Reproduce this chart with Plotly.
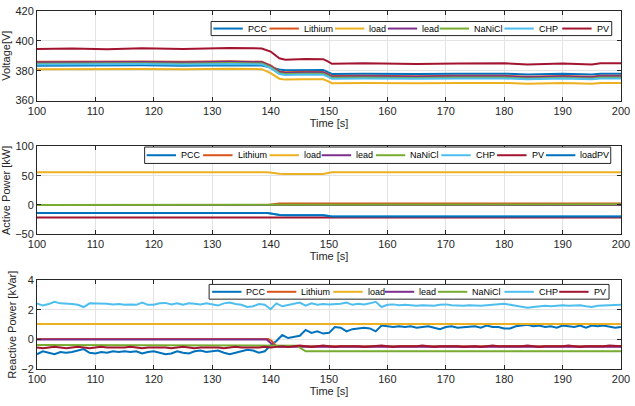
import plotly.graph_objects as go

NAMES = ["PCC", "Lithium", "load", "lead", "NaNiCl", "CHP", "PV"]
COLORS = {"PCC": "#0072BD", "Lithium": "#D95319", "load": "#EDB120", "lead": "#7E2F8E",
          "NaNiCl": "#77AC30", "CHP": "#4DBEEE", "PV": "#A2142F", "loadPV": "#0072BD"}

# ---------------- Voltage [V] ----------------
V_T = [100, 106, 112, 118, 125, 133, 138.5, 140, 141.5, 142.5, 146, 149, 149.8, 150.5,
       156, 165, 172, 180, 184, 190, 195, 196.5, 200]
V_PCC = [383.3, 383.5, 383.2, 383.6, 383.3, 383.7, 383.4, 382.0, 380.8, 380.3, 380.6, 380.5,
         379.0, 377.8, 378.0, 377.7, 378.0, 378.0, 377.4, 377.9, 377.4, 378.0, 378.0]
V_LITHIUM = [385.9, 386.1, 385.8, 386.2, 385.9, 386.3, 386.0, 383.5, 379.5, 378.9, 379.2, 379.1,
             377.8, 376.4, 376.6, 376.3, 376.6, 376.6, 376.0, 376.5, 376.0, 376.6, 376.6]
V_LOAD = [380.9, 381.1, 380.8, 381.2, 380.9, 381.3, 381.0, 378.3, 374.6, 374.0, 374.3, 374.2,
          373.0, 371.6, 371.8, 371.5, 371.8, 371.8, 371.2, 371.7, 371.2, 371.8, 371.8]
V_LEAD = [385.5, 385.7, 385.4, 385.8, 385.5, 385.9, 385.6, 383.1, 379.1, 378.5, 378.8, 378.7,
          377.4, 376.0, 376.2, 375.9, 376.2, 376.2, 375.6, 376.1, 375.6, 376.2, 376.2]
V_NANICL = [384.7, 384.9, 384.6, 385.0, 384.7, 385.1, 384.8, 382.3, 378.3, 377.7, 378.0, 377.9,
            376.6, 375.2, 375.4, 375.1, 375.4, 375.4, 374.8, 375.3, 374.8, 375.4, 375.4]
V_CHP = [384.1, 384.3, 384.0, 384.4, 384.1, 384.5, 384.2, 381.7, 377.7, 377.1, 377.4, 377.3,
         376.0, 374.6, 374.8, 374.5, 374.8, 374.8, 374.2, 374.7, 374.2, 374.8, 374.8]
V_PV = [394.5, 394.8, 394.4, 395.0, 394.6, 395.2, 394.9, 392.8, 388.3, 387.4, 387.8, 387.7,
        386.2, 384.6, 384.9, 384.5, 384.8, 384.9, 384.2, 384.8, 384.2, 384.9, 384.9]

# ---------------- Active power [kW] ----------------
P_T = [100, 139.5, 141.5, 142.5, 149, 150.5, 200]
P_PCC = [0, 0, 0, 0, 0, 0, 0]
P_LITHIUM = [0, 0, 2.5, 2.5, 2.5, 2.5, 2.5]
P_LOAD = [56, 56, 53.5, 53, 53, 56, 56]
P_LEAD = [0, 0, 0, 0, 0, 0, 0]
P_NANICL = [0, 0, 1.2, 1.2, 1.2, 1.2, 1.2]
P_CHP = [-13.5, -13.5, -16.5, -17, -17, -19.5, -19.5]
P_PV = [-21.5, -21.5, -21.5, -21.5, -21.5, -21.5, -21.5]
P_LOADPV = [-13.5, -13.5, -17, -17.5, -17.5, -19.5, -19.5]

# ---------------- Reactive power [kVar] ----------------
Q_T = list(range(100, 201))
Q_PCC = [-1.0, -0.8, -0.9, -1.0, -0.85, -0.9, -0.85, -0.75, -0.65, -0.9,
         -0.95, -0.85, -0.9, -0.8, -0.85, -0.8, -0.85, -0.8, -0.95, -0.85,
         -0.8, -0.9, -1.0, -0.95, -0.8, -0.9, -0.95, -0.8, -0.75, -0.85,
         -0.8, -0.75, -0.9, -1.0, -0.9, -0.8, -0.7, -0.75, -0.9, -0.8,
         -0.4, -0.1, 0.3, 0.1, 0.15, 0.25, 0.65, 0.45, 0.55, 0.4,
         0.45, 0.85, 0.8, 0.55, 0.7, 0.75, 0.8, 0.75, 0.55, 0.95,
         0.9, 0.85, 0.9, 0.85, 0.9, 0.8, 0.85, 0.9, 0.8, 0.7,
         0.85, 0.9, 0.8, 0.85, 0.85, 0.9, 0.8, 0.95, 0.85, 0.85,
         0.75, 0.75, 0.9, 0.95, 1.0, 0.9, 0.95, 0.85, 0.9, 0.8,
         0.95, 0.9, 0.85, 0.95, 0.8, 0.95, 0.9, 0.95, 0.85, 0.8,
         0.85]
Q_CHP = [2.45, 2.3, 2.4, 2.55, 2.45, 2.45, 2.4, 2.35, 2.2, 2.45,
         2.45, 2.4, 2.42, 2.38, 2.4, 2.35, 2.38, 2.35, 2.5, 2.35,
         2.35, 2.45, 2.48, 2.38, 2.45, 2.35, 2.45, 2.42, 2.38, 2.45,
         2.4, 2.3, 2.45, 2.5, 2.4, 2.35, 2.2, 2.25, 2.4, 2.35,
         2.05, 2.45, 2.25, 2.35, 2.4, 2.5, 2.3, 2.45, 2.35, 2.4,
         2.38, 2.4, 2.42, 2.5, 2.35, 2.42, 2.38, 2.45, 2.55, 2.2,
         2.35, 2.38, 2.32, 2.35, 2.3, 2.28, 2.32, 2.3, 2.28, 2.35,
         2.38, 2.32, 2.3, 2.28, 2.32, 2.3, 2.28, 2.32, 2.35, 2.38,
         2.42, 2.35, 2.3, 2.25, 2.15, 2.2, 2.25, 2.28, 2.25, 2.3,
         2.32, 2.28, 2.3, 2.32, 2.25, 2.2, 2.28, 2.3, 2.32, 2.35,
         2.35]
Q_PV = [-0.55, -0.6, -0.55, -0.5, -0.55, -0.6, -0.55, -0.5, -0.55, -0.6,
        -0.55, -0.5, -0.55, -0.55, -0.6, -0.55, -0.5, -0.55, -0.6, -0.55,
        -0.55, -0.5, -0.55, -0.6, -0.55, -0.5, -0.55, -0.6, -0.55, -0.55,
        -0.5, -0.55, -0.6, -0.55, -0.5, -0.55, -0.55, -0.6, -0.55, -0.5,
        -0.55, -0.5, -0.45, -0.5, -0.45, -0.4, -0.45, -0.5, -0.45, -0.4,
        -0.45, -0.5, -0.45, -0.45, -0.4, -0.45, -0.5, -0.45, -0.45, -0.4,
        -0.45, -0.5, -0.45, -0.45, -0.5, -0.45, -0.4, -0.45, -0.5, -0.45,
        -0.45, -0.4, -0.45, -0.5, -0.45, -0.45, -0.5, -0.45, -0.4, -0.45,
        -0.45, -0.5, -0.45, -0.45, -0.4, -0.45, -0.5, -0.45, -0.45, -0.5,
        -0.45, -0.4, -0.45, -0.5, -0.45, -0.45, -0.5, -0.45, -0.4, -0.45,
        -0.45]
QK_T_LOAD = [100, 200]
Q_LOAD = [1.05, 1.05]
QK_T_LITHIUM = [100, 139.6, 140.2, 141, 150, 200]
Q_LITHIUM = [0.03, 0.03, -0.1, -0.45, -0.45, -0.45]
QK_T_LEAD = [100, 139.3, 140.5, 141.5, 200]
Q_LEAD = [0.0, 0.0, -0.4, -0.5, -0.5]
QK_T_NANICL = [100, 120, 135, 144.5, 146, 160, 180, 200]
Q_NANICL = [-0.38, -0.4, -0.38, -0.42, -0.8, -0.82, -0.8, -0.8]

FONT = "Liberation Sans, Arial, sans-serif"
TXT = "#262626"

# page geometry (pixels) used to place the hand-drawn MATLAB-style legends
W, H = 635, 406
ML, MR, MT, MB = 36, 13, 5, 37
PW, PH = W - ML - MR, H - MT - MB

def px(x):
    return (x - ML) / PW

def py(y):
    return (H - MB - y) / PH

fig = go.Figure()

def add(x, y, name, xa, ya):
    fig.add_trace(go.Scatter(x=x, y=y, name=name, mode="lines", xaxis=xa, yaxis=ya,
                             showlegend=False, line=dict(color=COLORS[name], width=2)))

v_series = [V_PCC, V_LITHIUM, V_LOAD, V_LEAD, V_NANICL, V_CHP, V_PV]
for n, s in zip(NAMES, v_series):
    add(V_T, s, n, "x", "y")

p_series = [P_PCC, P_LITHIUM, P_LOAD, P_LEAD, P_NANICL, P_CHP, P_PV, P_LOADPV]
for n, s in zip(NAMES + ["loadPV"], p_series):
    add(P_T, s, n, "x2", "y2")

q_x = [Q_T, QK_T_LITHIUM, QK_T_LOAD, QK_T_LEAD, QK_T_NANICL, Q_T, Q_T]
q_series = [Q_PCC, Q_LITHIUM, Q_LOAD, Q_LEAD, Q_NANICL, Q_CHP, Q_PV]
for n, x, s in zip(NAMES, q_x, q_series):
    add(x, s, n, "x3", "y3")

shapes, annotations = [], []

def legend(names, box_x, box_y, starts):
    shapes.append(dict(type="rect", xref="paper", yref="paper", layer="above",
                       x0=px(box_x[0]), x1=px(box_x[1]), y0=py(box_y[1]), y1=py(box_y[0]),
                       fillcolor="white", line=dict(color=TXT, width=1)))
    yc = (box_y[0] + box_y[1]) / 2
    for n, s in zip(names, starts):
        shapes.append(dict(type="line", xref="paper", yref="paper", layer="above",
                           x0=px(s), x1=px(s + 29.5), y0=py(yc), y1=py(yc),
                           line=dict(color=COLORS[n], width=2)))
        annotations.append(dict(text=n, xref="paper", yref="paper", x=px(s + 32.5), y=py(yc),
                                xanchor="left", yanchor="middle", showarrow=False,
                                font=dict(size=9, color="black", family=FONT)))

legend(NAMES, (210.7, 612.7), (15.7, 30), [213, 269.3, 335, 388, 440, 505, 563])
legend(NAMES + ["loadPV"], (144, 611.7), (143.3, 160),
       [146, 202.7, 269.3, 321.7, 376, 441.7, 497.7, 546.7])
legend(NAMES, (208.7, 610), (283, 298), [211.7, 266.7, 333.3, 385, 438.3, 505, 560])

def xax(anchor):
    return dict(domain=[0, 1], anchor=anchor, range=[100, 200], dtick=10,
                ticks="inside", ticklen=4, tickcolor=TXT, showline=True, linecolor=TXT,
                linewidth=1, mirror="allticks", showgrid=True, gridcolor="#e3e3e3",
                zeroline=False, tickfont=dict(size=11, color=TXT, family=FONT),
                title=dict(text="Time [s]", font=dict(size=11, color=TXT, family=FONT), standoff=2))

def yax(anchor, dom, rng, dt, title):
    return dict(domain=dom, anchor=anchor, range=rng, dtick=dt,
                ticks="inside", ticklen=4, tickcolor=TXT, showline=True, linecolor=TXT,
                linewidth=1, mirror="allticks", showgrid=True, gridcolor="#e3e3e3",
                zeroline=False, tickfont=dict(size=11, color=TXT, family=FONT),
                title=dict(text=title, font=dict(size=11, color=TXT, family=FONT), standoff=2))

fig.update_layout(
    width=W, height=H, autosize=False,
    margin=dict(l=ML, r=MR, t=MT, b=MB),
    paper_bgcolor="white", plot_bgcolor="white",
    font=dict(family=FONT, color=TXT),
    showlegend=False,
    xaxis=xax("y"),
    yaxis=yax("x", [py(96), py(5)], [360, 420], 20, "Voltage[V]"),
    xaxis2=xax("y2"),
    yaxis2=yax("x2", [py(232), py(142.7)], [-50, 100], 50, "Active Power [kW]"),
    xaxis3=xax("y3"),
    yaxis3=yax("x3", [py(369), py(279)], [-2, 4], 2, "Reactive Power [kVar]"),
    shapes=shapes,
    annotations=annotations,
)

fig.write_html("out.html")
